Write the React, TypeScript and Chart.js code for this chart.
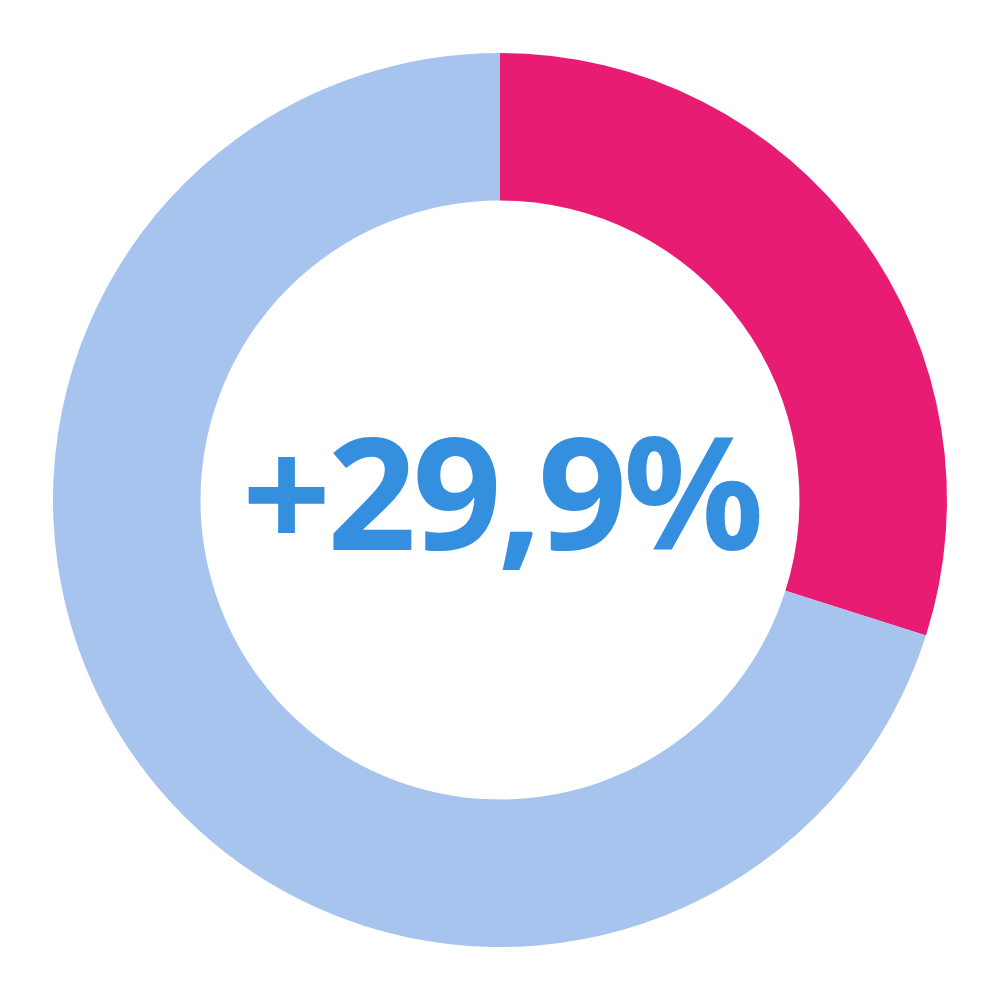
import { useEffect, useRef } from 'react';
import { Chart, registerables } from 'chart.js';

Chart.register(...registerables);

// share of the ring, in percent
const labels = ['Growth', 'Rest'];
const values = [29.9, 70.1];
const colors = ['#E91C74', '#A7C4EE'];
const centerLabel = '+29,9%';

export default function App() {
  const canvasRef = useRef<HTMLCanvasElement>(null);
  const chartRef = useRef<Chart | null>(null);

  useEffect(() => {
    if (!canvasRef.current) return;
    if (chartRef.current) chartRef.current.destroy();

    chartRef.current = new Chart(canvasRef.current, {
      type: 'doughnut',
      data: {
        labels,
        datasets: [
          {
            data: values,
            backgroundColor: colors,
            borderWidth: 0,
          },
        ],
      },
      options: {
        responsive: false,
        animation: false,
        cutout: '67%',
        layout: { padding: 53 },
        plugins: {
          legend: { display: false },
          tooltip: { enabled: false },
        },
      },
    });

    return () => {
      if (chartRef.current) {
        chartRef.current.destroy();
        chartRef.current = null;
      }
    };
  }, []);

  return (
    <div style={{ position: 'absolute', left: 0, top: 0, width: 1000, height: 1000, background: '#fff' }}>
      <canvas ref={canvasRef} width={1000} height={1000} style={{ width: 1000, height: 1000 }} />
      <div
        style={{
          position: 'absolute',
          left: 0,
          top: 0,
          width: 1000,
          height: 1000,
          boxSizing: 'border-box',
          paddingBottom: 22,
          paddingLeft: 2,
          display: 'flex',
          alignItems: 'center',
          justifyContent: 'center',
          fontFamily: '"Noto Sans", sans-serif',
          fontWeight: 700,
          fontSize: 156,
          letterSpacing: -4,
          color: '#348FDF',
          pointerEvents: 'none',
        }}
      >
        {centerLabel}
      </div>
    </div>
  );
}
